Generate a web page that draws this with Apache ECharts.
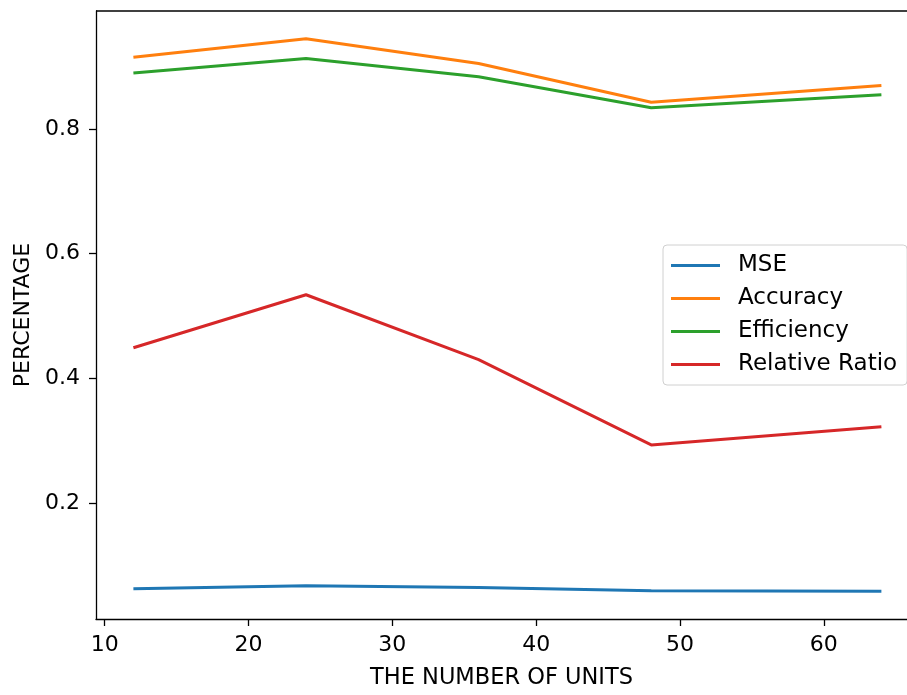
<!DOCTYPE html>
<html>
<head>
<meta charset="utf-8">
<script src="https://cdn.jsdelivr.net/npm/echarts@6/dist/echarts.min.js"></script>
<style>
  html, body { margin: 0; padding: 0; background: #fff; }
  #main { width: 907px; height: 695px; }
</style>
</head>
<body>
<div id="main"></div>
<script>
var units = [12, 24, 36, 48, 64];
var mse = [0.062, 0.067, 0.064, 0.059, 0.058];
var accuracy = [0.915, 0.945, 0.905, 0.843, 0.870];
var efficiency = [0.890, 0.913, 0.884, 0.834, 0.855];
var relativeRatio = [0.449, 0.534, 0.430, 0.293, 0.322];

var xTicks = [10, 20, 30, 40, 50, 60];
var yTicks = [0.2, 0.4, 0.6, 0.8];

var names = ['MSE', 'Accuracy', 'Efficiency', 'Relative Ratio'];
var colors = ['#1f77b4', '#ff7f0e', '#2ca02c', '#d62728'];
var values = [mse, accuracy, efficiency, relativeRatio];

function pairs(arr) {
  return units.map(function (u, i) { return [u, arr[i]]; });
}

var font = 'DejaVu Sans';
var fs = 22;
var chart = echarts.init(document.getElementById('main'));

var option = {
  backgroundColor: '#fff',
  animation: false,
  color: colors,
  grid: { left: 96, top: 11, right: 0, bottom: 73, containLabel: false },
  legend: {
    orient: 'vertical',
    left: 663,
    top: 245,
    padding: [9, 10, 9, 8],
    itemGap: 10,
    itemWidth: 49,
    itemHeight: 3,
    icon: 'rect',
    borderColor: '#d0d0d0',
    borderWidth: 1,
    borderRadius: 4,
    backgroundColor: 'rgba(255,255,255,0.8)',
    textStyle: { fontFamily: font, fontSize: 23, color: '#000', padding: [0, 0, 0, 13] },
    data: names
  },
  xAxis: {
    type: 'value',
    min: 9.4,
    max: 65.78,
    name: 'THE NUMBER OF UNITS',
    nameLocation: 'middle',
    nameGap: 48,
    nameTextStyle: { fontFamily: font, fontSize: 22.5, color: '#000' },
    axisLine: { show: true, onZero: false, lineStyle: { color: '#000', width: 1.3 } },
    axisTick: { show: true, inside: false, length: 7, customValues: xTicks, lineStyle: { color: '#000', width: 1.3 } },
    axisLabel: {
      fontFamily: font, fontSize: fs, color: '#000', margin: 15,
      customValues: xTicks
    },
    splitLine: { show: false }
  },
  yAxis: {
    type: 'value',
    min: 0.0136,
    max: 0.9894,
    name: 'PERCENTAGE',
    nameLocation: 'middle',
    nameGap: 62,
    nameTextStyle: { fontFamily: font, fontSize: fs, color: '#000' },
    axisLine: { show: true, onZero: false, lineStyle: { color: '#000', width: 1.3 } },
    axisTick: { show: true, inside: false, length: 7, customValues: yTicks, lineStyle: { color: '#000', width: 1.3 } },
    axisLabel: {
      fontFamily: font, fontSize: fs, color: '#000', margin: 16,
      customValues: yTicks,
      formatter: function (v) { return v.toFixed(1); }
    },
    splitLine: { show: false }
  },
  series: names.map(function (n, i) {
    return {
      name: n,
      type: 'line',
      data: pairs(values[i]),
      showSymbol: false,
      symbol: 'none',
      lineStyle: { color: colors[i], width: 3 },
      itemStyle: { color: colors[i] },
      z: 2 + i
    };
  })
};

chart.setOption(option);

// top spine (right spine falls outside the picture)
chart.setOption({
  graphic: [{
    type: 'line',
    shape: { x1: 96, y1: 11, x2: 907, y2: 11 },
    style: { stroke: '#000', lineWidth: 1.3 },
    silent: true
  }]
});
</script>
</body>
</html>
